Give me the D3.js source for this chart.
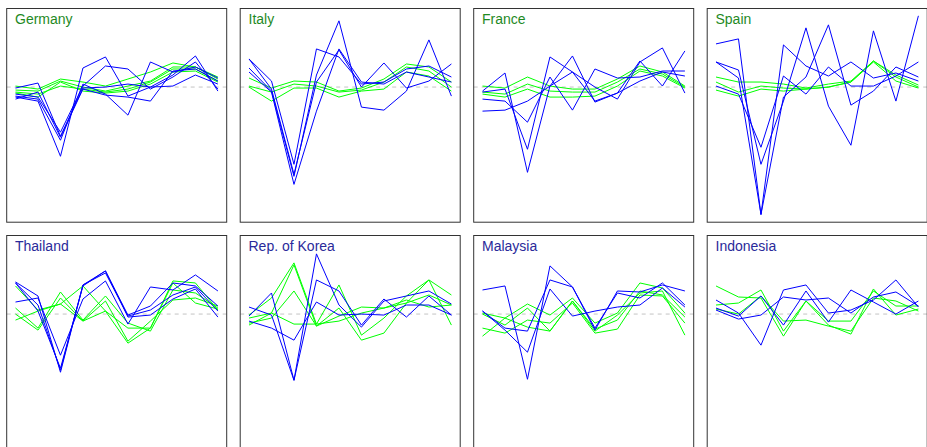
<!DOCTYPE html>
<html>
<head>
<meta charset="utf-8">
<script src="https://cdn.jsdelivr.net/npm/d3@7"></script>
<style>
  body { margin: 0; background: #fff; }
  svg { display: block; font-family: "Liberation Sans", Arial, sans-serif; }
</style>
</head>
<body>
<div id="chart"></div>
<script>
// panel names, top row europe, bottom row asia
const countries = ["Germany", "Italy", "France", "Spain", "Thailand", "Rep. of Korea", "Malaysia", "Indonesia"];
const regionOf = ["europe", "europe", "europe", "europe", "asia", "asia", "asia", "asia"];
const periods = [1, 2, 3, 4, 5, 6, 7, 8, 9, 10];

// blue series per country
const blueSeries = [
	[ // Germany
		[-0.1, 0.4, -4.9, -0.1, 0.0, 0.3, 0.0, 1.2, 3.1, -0.4],
		[-0.7, -1.0, -4.5, 0.1, 2.1, 1.8, -0.2, 1.0, 2.5, -0.2],
		[-0.9, -1.2, -5.3, 0.3, -0.7, -2.8, 2.5, 1.5, 2.0, 0.9],
		[-1.0, -1.4, -6.9, 1.9, 3.0, -0.9, 0.0, 0.1, 1.2, 0.3],
		[-1.2, -0.5, -5.0, -0.2, -0.8, -1.0, -1.4, 1.6, 1.8, 0.6]
	],
	[ // Italy
		[2.8, 0.6, -7.7, 3.8, 3.0, 0.3, 0.5, 1.8, 2.1, 1.0],
		[2.8, -0.2, -8.7, 0.5, 3.7, 0.0, 2.4, -0.1, 0.6, 2.3],
		[1.9, -0.4, -8.9, 1.2, 6.6, -2.0, -2.3, -0.4, 4.7, -0.9],
		[1.5, -0.5, -9.7, -2.4, 3.8, 0.5, 0.3, 1.5, 1.0, 0.5]
	],
	[ // France
		[-0.4, 1.4, -8.5, 0.1, 3.1, -1.5, -0.6, 2.6, 0.1, 3.6],
		[-0.5, -0.2, -6.2, 3.0, 1.5, 0.0, -1.2, 2.5, 3.9, -0.6],
		[-1.2, -1.4, -3.5, 1.0, -2.3, 1.8, 0.9, 1.0, 1.6, 1.6],
		[-2.4, -2.3, -1.4, 0.1, 1.5, -1.4, -0.6, 0.6, 1.5, 1.1]
	],
	[ // Spain
		[4.3, 4.8, -12.7, 4.2, 2.1, 1.1, 2.5, 0.9, 1.4, 0.6],
		[2.5, 1.7, -7.7, -1.4, 5.9, -1.9, -5.8, 5.6, -1.4, 7.1],
		[2.5, 0.9, -12.7, -1.0, 1.0, 6.2, -1.8, -0.4, 2.0, 1.0],
		[0.1, -0.7, -6.0, 1.1, -0.7, 2.0, 0.1, 0.1, 1.1, 2.5]
	],
	[ // Thailand
		[3.2, 1.8, -5.8, 2.9, 4.3, -0.3, -0.1, 1.5, 2.5, -0.3],
		[3.1, 0.3, -5.4, 2.8, 4.3, -0.1, 0.8, 3.1, 2.8, 0.8],
		[1.2, 1.6, -4.1, 1.5, 3.3, -1.0, 2.7, 2.4, 3.9, 2.3],
		[3.1, 0.9, -5.6, 2.9, 4.1, -0.2, 0.4, 1.9, 2.7, 0.3]
	],
	[ // Rep. of Korea
		[0.7, -0.1, -6.6, 6.0, 0.9, -1.3, 1.3, 1.8, 2.3, 1.0],
		[-0.2, 2.1, -6.6, 3.4, 2.3, -1.1, 1.5, -0.3, 1.8, -0.1],
		[-0.7, -1.4, -2.6, 1.2, -0.1, 0.0, -0.1, 0.9, 0.9, -0.1]
	],
	[ // Malaysia
		[2.4, 2.8, -6.5, 4.8, 2.7, -1.6, 2.3, 2.2, 2.9, 2.3],
		[0.3, -1.4, -1.7, 3.4, 2.7, -1.4, 2.1, 1.6, 3.1, 0.9],
		[0.3, -1.6, -3.8, 2.5, -0.2, 0.3, 0.7, 0.9, 2.6, 0.7]
	],
	[ // Indonesia
		[1.4, 0.1, -3.1, 2.4, 2.9, 0.1, 0.4, 1.4, 3.4, 0.7],
		[0.6, -0.2, 1.8, -1.1, 2.3, -0.8, 2.4, 1.2, 0.0, 1.3],
		[0.4, -0.5, -0.1, 1.7, 1.4, 1.6, 0.1, 1.7, 2.2, 0.8]
	]
]

// green series per country
const greenSeries = [
	[ // Germany
		[0.1, -0.2, 0.8, 0.5, 0.1, 0.8, 1.5, 2.4, 2.0, 1.0],
		[-0.3, -0.4, 0.6, 0.0, -0.4, 0.1, 0.6, 2.0, 2.0, 0.8],
		[-0.5, -0.7, 0.1, -0.2, -0.5, -0.2, 0.5, 1.8, 1.8, 0.6],
		[-0.6, -1.0, 0.5, -0.4, -0.6, -0.4, 0.3, 1.5, 1.6, 0.5]
	],
	[ // Italy
		[0.9, -0.1, 0.6, 0.5, -0.4, -0.1, 0.8, 2.3, 2.0, 0.5],
		[0.1, -0.5, 0.3, 0.1, -0.5, -0.3, 0.5, 2.0, 1.6, 0.0],
		[0.0, -1.4, -0.1, -0.1, -1.0, -0.4, -0.2, 1.5, 1.1, -0.4]
	],
	[ // France
		[0.1, -0.1, 1.0, 0.1, -0.2, -0.2, 0.8, 2.1, 1.5, 0.1],
		[-0.5, -0.7, 0.3, -0.4, -0.5, -0.5, 0.5, 1.8, 1.3, 0.0],
		[-0.7, -1.0, -0.2, -1.0, -1.0, -0.9, 0.1, 1.6, 1.1, -0.1]
	],
	[ // Spain
		[1.0, 0.5, 0.5, 0.3, -0.1, 0.3, 0.6, 2.6, 1.2, 0.2],
		[0.5, -0.5, 0.1, -0.1, -0.2, 0.0, 0.5, 2.6, 1.0, 0.0],
		[-0.3, -0.9, -0.2, -0.4, -0.2, 0.0, 0.5, 2.5, 0.6, -0.1]
	],
	[ // Thailand
		[2.8, 0.4, 1.0, 2.8, 0.3, -2.9, -1.4, 3.3, 3.1, 0.4],
		[0.6, -1.4, 2.2, -0.6, 1.8, -0.9, -1.7, 2.4, 2.1, 0.6],
		[0.0, -1.6, 1.6, -0.7, 1.3, -2.7, -0.7, 1.4, 1.6, 0.8],
		[-0.6, 0.3, 1.0, -0.7, 0.3, -1.4, -1.4, 3.1, 1.1, 0.5]
	],
	[ // Rep. of Korea
		[-0.1, 1.6, 5.1, -1.0, 2.9, -2.1, -0.4, 1.8, 3.4, -1.1],
		[-0.4, 0.1, 4.9, -1.2, 0.6, -2.6, -1.9, 1.1, 3.4, 1.9],
		[-0.9, -0.4, 2.3, -1.2, -0.2, 0.7, 0.6, 1.4, 0.7, 0.9],
		[-1.1, 0.1, -1.0, -1.0, -0.7, 0.1, 0.6, 1.1, 1.9, 0.9]
	],
	[ // Malaysia
		[0.1, -0.4, 1.0, -0.1, 1.6, -0.9, 0.1, 3.1, 2.6, 0.1],
		[0.0, -1.1, 0.6, -1.7, 1.3, -1.5, -0.6, 2.3, 1.9, -0.3],
		[-1.4, -1.9, -0.6, -0.9, 1.1, -1.9, -1.5, 1.9, 1.8, -0.9],
		[-2.2, -0.4, -1.3, -1.7, 1.3, -1.7, -0.1, 2.1, 2.3, -2.1]
	],
	[ // Indonesia
		[2.8, 1.7, 1.6, -2.2, 1.3, -1.1, -2.0, 2.5, -0.1, 0.5],
		[0.9, 1.1, 2.4, -1.7, 1.3, -0.7, -0.7, 2.3, 0.8, 0.8],
		[0.5, 0.0, 1.8, -0.7, -0.6, -1.2, -1.7, 1.6, 1.3, 0.3]
	]
]

const yDomain = [-13.47, 7.83];

const panelW = 220,
    panelH = 213.7,
    colStep = 233.5,
    rowStep = 227,
    originX = 6.7,
    originY = 8.5;

const titleColor = { europe: "#1f8a1f", asia: "#2a2a9a" };

var svg = d3.select("#chart").append("svg")
	.attr("width", 927)
	.attr("height", 447)

// x gets the usual 4% padding on each side
var pad = panelW * 0.04;
var x = d3.scaleLinear()
	.domain([1, 10])
	.range([pad, panelW - pad]);

var y = d3.scaleLinear()
	.domain(yDomain)
	.range([panelH, 0]);

var line = d3.line()
	.x(function(d, i){ return x(periods[i]) })
	.y(function(d){ return y(d) })

countries.forEach(function(name, k){
	var col = k % 4, row = Math.floor(k / 4);
	var g = svg.append("g")
		.attr("transform", "translate(" + (originX + col * colStep) + "," + (originY + row * rowStep) + ")")

	// zero reference
	g.append("line")
		.attr("x1", 0)
		.attr("x2", panelW)
		.attr("y1", y(0))
		.attr("y2", y(0))
		.attr("stroke", "#c4c4c4")
		.attr("stroke-width", 1)
		.attr("stroke-dasharray", "4,4")

	g.selectAll(".green")
		.data(greenSeries[k])
		.enter().append("path")
		.attr("class", "green")
		.attr("d", line)
		.attr("fill", "none")
		.attr("stroke", "#00ff00")
		.attr("stroke-width", 1)

	g.selectAll(".blue")
		.data(blueSeries[k])
		.enter().append("path")
		.attr("class", "blue")
		.attr("d", line)
		.attr("fill", "none")
		.attr("stroke", "#0000ff")
		.attr("stroke-width", 1)

	g.append("rect")
		.attr("x", 0)
		.attr("y", 0)
		.attr("width", panelW)
		.attr("height", panelH)
		.attr("fill", "none")
		.attr("stroke", "#333")
		.attr("stroke-width", 1)

	g.append("text")
		.attr("x", 8.3)
		.attr("y", 15.5)
		.attr("font-size", 14)
		.attr("fill", titleColor[regionOf[k]])
		.text(name)
})
</script>
</body>
</html>
